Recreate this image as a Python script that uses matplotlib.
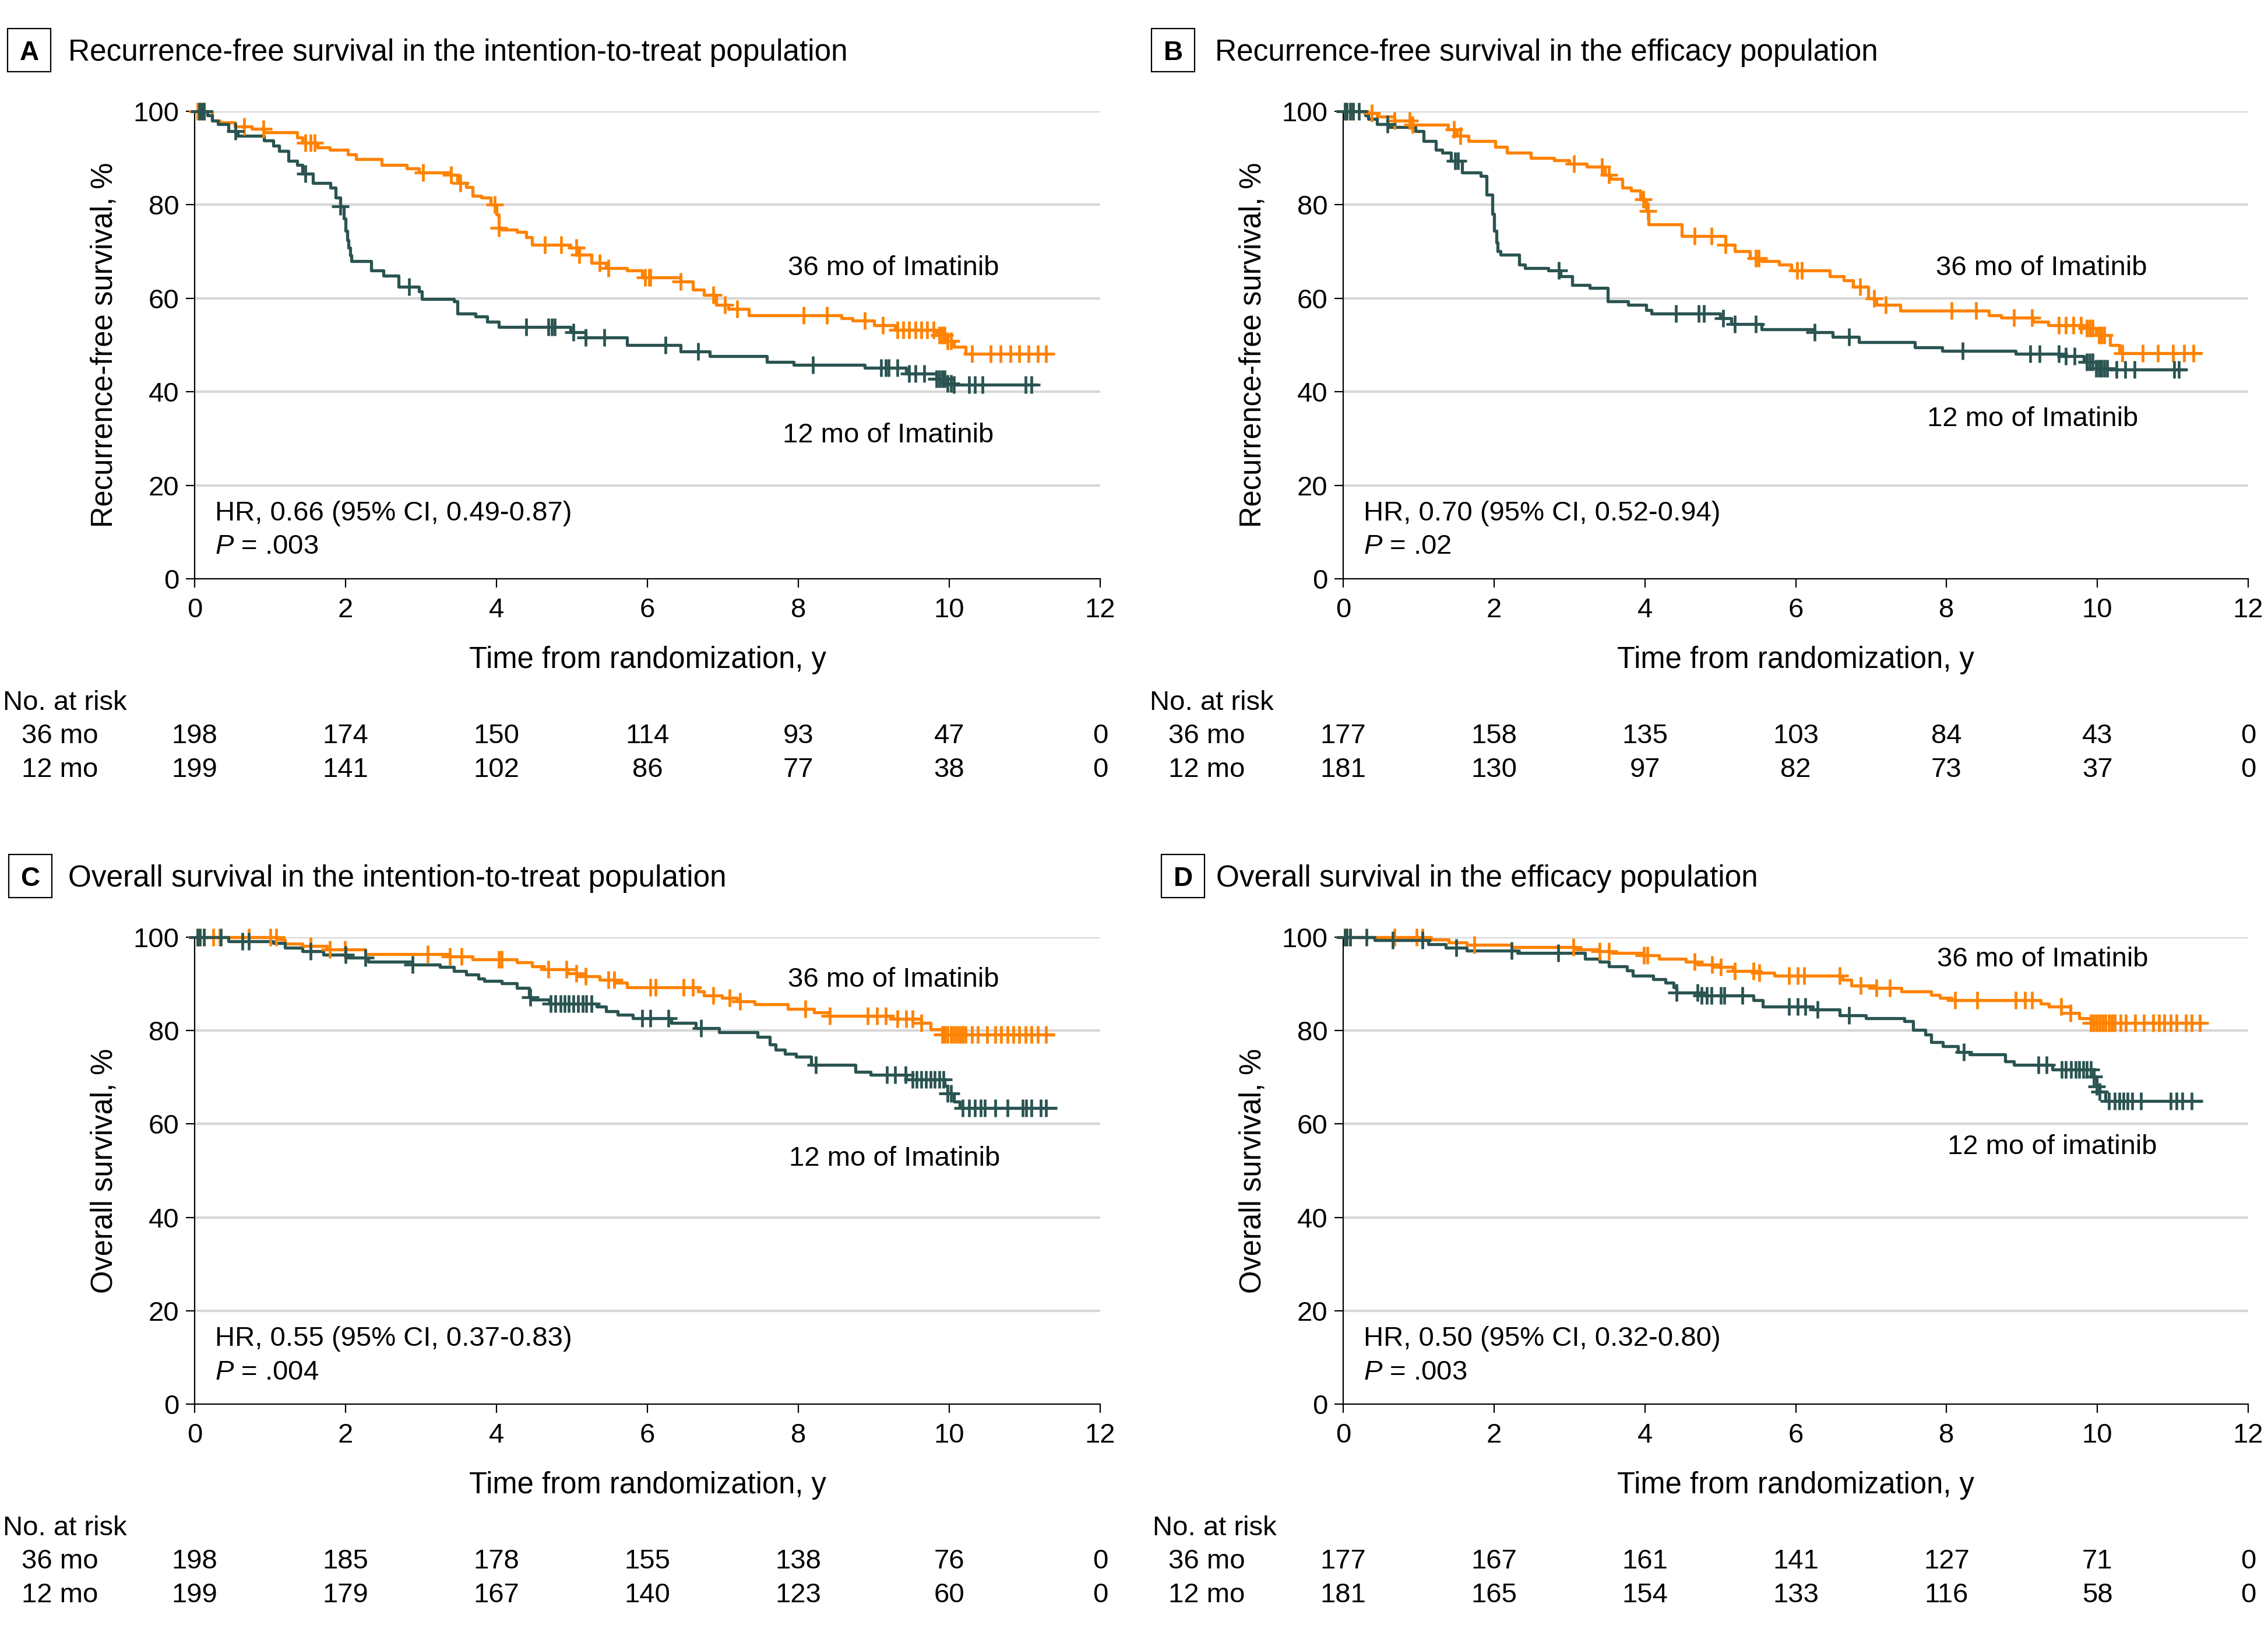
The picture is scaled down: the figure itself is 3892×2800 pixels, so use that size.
import numpy as np
import matplotlib
matplotlib.use("Agg")
import matplotlib.pyplot as plt
from matplotlib.patches import Rectangle
from matplotlib.transforms import blended_transform_factory

plt.rcParams['font.family'] = ['Liberation Sans', 'DejaVu Sans']
plt.rcParams['mathtext.fontset'] = 'custom'
plt.rcParams['mathtext.rm'] = 'Liberation Sans'
plt.rcParams['mathtext.it'] = 'Liberation Sans:italic'

ORANGE = '#FF8200'
TEAL = '#2A5451'

# ---- panel A: RFS, intention-to-treat ----
a36_t = [0, 0.23, 0.33, 0.53, 0.76, 0.92, 1.36, 1.43, 1.63, 1.79, 2.03, 2.14, 2.48, 2.81, 2.97, 3.40,
         3.48, 3.60, 3.68, 3.80, 3.92, 4.00, 4.03, 4.07, 4.27, 4.39, 4.47, 4.98, 5.10, 5.26, 5.45, 5.73,
         5.93, 6.44, 6.60, 6.75, 6.91, 7.07, 7.34, 8.57, 8.72, 9.00, 9.28, 9.83, 9.98, 10.06, 10.22]
a36_s = [100, 98.0, 97.6, 96.7, 96.2, 95.5, 94.4, 93.3, 92.3, 91.8, 90.8, 89.8, 88.5, 87.8, 86.9, 86.4,
         84.7, 83.8, 81.9, 81.5, 80.1, 77.9, 75.1, 74.7, 74.2, 73.1, 71.5, 70.8, 69.3, 67.6, 66.5, 65.9,
         64.5, 63.6, 61.8, 60.7, 58.6, 57.7, 56.3, 55.7, 55.2, 54.3, 53.2, 52.1, 50.9, 49.6, 48.1]
a36_end = 11.36
a36_cens = [0.04, 0.07, 0.12, 0.66, 0.91, 1.47, 1.54, 1.59, 3.03, 3.40, 3.52, 3.98, 4.03, 4.64, 4.86,
            5.06, 5.10, 5.37, 5.48, 5.97, 6.02, 6.04, 6.44, 6.87, 7.03, 7.19, 8.07, 8.38, 8.88, 9.12,
            9.31, 9.39, 9.47, 9.55, 9.63, 9.71, 9.79, 9.87, 9.91, 9.94, 9.98, 10.02, 10.30, 10.55, 10.68,
            10.81, 10.93, 11.05, 11.17, 11.28]
a12_t = [0, 0.17, 0.23, 0.31, 0.45, 0.57, 0.92, 1.04, 1.12, 1.24, 1.36, 1.43, 1.57, 1.80, 1.87, 1.93,
         1.98, 2.00, 2.02, 2.04, 2.06, 2.08, 2.34, 2.50, 2.70, 2.97, 3.01, 3.44, 3.48, 3.72, 3.88, 4.03,
         4.98, 5.18, 5.73, 6.44, 6.83, 7.58, 7.94, 8.88, 9.43, 9.83, 9.98, 10.06]
a12_s = [100, 99.1, 98.0, 97.3, 95.8, 94.8, 93.8, 92.6, 91.5, 89.4, 88.5, 86.7, 84.7, 83.7, 81.5, 79.7,
         77.0, 74.5, 72.5, 70.8, 69.2, 67.9, 65.9, 64.9, 62.5, 61.5, 59.9, 59.3, 56.7, 56.1, 55.0, 53.9,
         52.7, 51.6, 50.0, 48.6, 47.6, 46.4, 45.8, 45.1, 43.9, 42.8, 41.8, 41.5]
a12_end = 11.17
a12_cens = [0.06, 0.09, 0.12, 0.54, 1.47, 1.93, 2.84, 4.39, 4.69, 4.73, 4.77, 5.02, 5.18, 5.43, 6.24,
            6.67, 8.19, 9.10, 9.16, 9.20, 9.31, 9.47, 9.55, 9.67, 9.83, 9.87, 9.91, 9.94, 9.98, 10.02,
            10.06, 10.26, 10.34, 10.44, 11.01, 11.09]

# ---- panel B: RFS, efficacy ----
b36_t = [0, 0.33, 0.45, 0.68, 0.92, 1.39, 1.51, 1.66, 2.02, 2.17, 2.49, 2.80, 3.00, 3.23, 3.47, 3.55,
         3.70, 3.82, 3.94, 4.02, 4.05, 4.49, 5.07, 5.19, 5.39, 5.55, 5.78, 5.94, 6.45, 6.64, 6.76, 6.96,
         7.07, 7.39, 8.56, 8.72, 9.15, 9.35, 9.82, 9.98, 10.17, 10.29]
b36_s = [100, 99.6, 98.9, 98.0, 97.1, 96.1, 94.8, 93.7, 92.4, 91.2, 90.0, 89.5, 88.8, 88.2, 86.4, 85.5,
         83.7, 83.0, 81.2, 78.7, 75.8, 73.3, 71.5, 70.1, 68.6, 67.9, 67.2, 65.9, 64.7, 63.8, 62.5, 60.0,
         58.6, 57.3, 56.4, 55.9, 55.0, 54.2, 53.6, 52.1, 50.0, 48.2]
b36_end = 11.39
b36_cens = [0.02, 0.05, 0.09, 0.13, 0.38, 0.68, 0.88, 0.92, 1.47, 1.55, 3.06, 3.43, 3.52, 3.98, 4.04,
            4.66, 4.88, 5.07, 5.47, 5.51, 6.02, 6.08, 6.85, 7.04, 7.19, 8.07, 8.39, 8.89, 9.13, 9.49,
            9.58, 9.68, 9.78, 9.86, 9.90, 9.94, 10.02, 10.05, 10.09, 10.33, 10.60, 10.80, 11.00, 11.15,
            11.27]
b12_t = [0, 0.29, 0.33, 0.45, 0.60, 0.96, 1.07, 1.23, 1.31, 1.43, 1.58, 1.82, 1.90, 1.98, 2.00, 2.03,
         2.05, 2.09, 2.33, 2.41, 2.72, 2.88, 3.04, 3.27, 3.51, 3.78, 4.02, 4.09, 5.00, 5.15, 5.55, 6.25,
         6.49, 6.84, 7.58, 7.94, 8.92, 9.51, 9.82, 9.98, 10.17]
b12_s = [100, 99.1, 98.4, 97.3, 96.6, 95.8, 93.7, 91.8, 91.2, 89.4, 86.9, 86.2, 82.2, 78.0, 74.4, 72.0,
         70.1, 69.3, 67.2, 66.5, 65.9, 64.7, 62.9, 62.2, 59.3, 58.6, 57.5, 56.7, 55.7, 54.5, 53.4, 52.7,
         51.8, 50.6, 49.5, 48.7, 48.1, 47.6, 46.4, 45.0, 44.8]
b12_end = 11.18
b12_cens = [0.02, 0.05, 0.09, 0.13, 0.21, 0.59, 1.48, 1.52, 2.86, 4.41, 4.71, 4.78, 5.04, 5.19, 5.47,
            6.25, 6.71, 8.21, 9.11, 9.23, 9.49, 9.58, 9.70, 9.86, 9.90, 9.94, 9.98, 10.02, 10.05, 10.09,
            10.13, 10.25, 10.37, 10.49, 11.02, 11.08]

# ---- panel C: OS, intention-to-treat ----
c36_t = [0, 1.12, 1.20, 1.43, 1.75, 2.26, 3.36, 3.68, 4.27, 4.47, 4.63, 4.94, 5.10, 5.37, 5.57, 5.73,
         6.67, 6.75, 6.99, 7.19, 7.42, 7.86, 8.21, 8.41, 9.24, 9.63, 9.75, 9.91]
c36_s = [100, 99.5, 98.6, 98.1, 97.4, 96.4, 95.9, 95.3, 94.6, 93.8, 93.1, 92.2, 91.6, 90.9, 90.3, 89.3,
         88.4, 87.5, 87.0, 86.3, 85.7, 84.6, 83.9, 83.2, 82.5, 81.6, 80.3, 79.1]
c36_end = 11.40
c36_cens = [0.04, 0.07, 0.12, 0.25, 0.33, 0.72, 1.00, 1.08, 1.54, 1.79, 1.99, 3.09, 3.38, 3.54, 4.03,
            4.07, 4.69, 4.93, 5.06, 5.18, 5.48, 5.56, 6.04, 6.11, 6.48, 6.60, 6.87, 7.09, 7.23, 8.09,
            8.42, 8.92, 9.04, 9.16, 9.31, 9.43, 9.51, 9.63, 9.91, 9.94, 9.98, 10.02, 10.06, 10.10, 10.14,
            10.18, 10.22, 10.30, 10.38, 10.50, 10.61, 10.69, 10.77, 10.85, 10.93, 11.01, 11.09, 11.17,
            11.28]
c12_t = [0, 0.45, 1.04, 1.20, 1.43, 1.71, 2.03, 2.30, 2.89, 3.25, 3.44, 3.60, 3.76, 3.84, 4.07, 4.27,
         4.43, 4.47, 4.70, 5.33, 5.45, 5.61, 5.81, 6.32, 6.64, 6.95, 7.46, 7.62, 7.70, 7.82, 7.97, 8.17,
         8.76, 8.96, 9.43, 9.94, 9.98, 10.06, 10.14]
c12_s = [100, 99.1, 98.8, 97.7, 97.0, 96.3, 95.6, 94.8, 94.1, 93.6, 92.7, 92.0, 91.1, 90.6, 90.1, 89.1,
         87.2, 86.6, 85.8, 85.2, 84.1, 83.4, 82.7, 81.6, 80.5, 79.6, 78.7, 77.0, 75.9, 75.0, 74.4, 72.6,
         71.2, 70.5, 69.6, 68.2, 66.6, 64.8, 63.4]
c12_end = 11.43
c12_cens = [0.04, 0.07, 0.12, 0.35, 0.63, 0.72, 1.54, 2.00, 2.26, 2.89, 4.45, 4.72, 4.78, 4.85, 4.90,
            4.96, 5.02, 5.08, 5.14, 5.19, 5.26, 5.93, 6.04, 6.28, 6.71, 8.23, 9.17, 9.28, 9.42, 9.51,
            9.57, 9.63, 9.69, 9.75, 9.81, 9.87, 9.92, 9.98, 10.02, 10.18, 10.26, 10.34, 10.42, 10.47,
            10.61, 10.77, 10.97, 11.02, 11.09, 11.21, 11.28]

# ---- panel D: OS, efficacy ----
d36_t = [0, 1.17, 1.40, 1.64, 2.23, 3.09, 3.40, 3.56, 3.99, 4.19, 4.54, 4.70, 4.97, 5.17, 5.48, 5.72,
         6.62, 6.74, 7.05, 7.40, 7.80, 7.91, 8.07, 9.25, 9.36, 9.64, 9.76, 9.91]
d36_s = [100, 99.5, 98.9, 98.4, 97.9, 97.4, 97.0, 96.6, 96.1, 95.4, 94.8, 94.1, 93.6, 92.8, 92.4, 91.7,
         90.9, 89.6, 89.1, 88.4, 87.7, 87.0, 86.5, 85.8, 85.1, 83.8, 82.7, 81.7]
d36_end = 11.42
d36_cens = [0.02, 0.05, 0.09, 0.68, 0.97, 1.05, 1.74, 3.05, 3.40, 3.52, 3.99, 4.03, 4.66, 4.89, 5.01,
            5.19, 5.44, 5.52, 5.91, 6.03, 6.11, 6.58, 6.86, 7.07, 7.25, 8.11, 8.41, 8.92, 9.04, 9.13,
            9.52, 9.64, 9.91, 9.95, 9.99, 10.03, 10.07, 10.11, 10.15, 10.19, 10.23, 10.31, 10.38, 10.50,
            10.62, 10.74, 10.82, 10.89, 10.97, 11.05, 11.17, 11.25, 11.36]
d12_t = [0, 0.42, 1.13, 1.36, 1.64, 2.31, 3.21, 3.40, 3.52, 3.76, 3.84, 4.11, 4.27, 4.38, 4.42, 4.74,
         5.44, 5.56, 6.23, 6.58, 6.93, 7.44, 7.56, 7.72, 7.80, 7.95, 8.15, 8.31, 8.78, 8.89, 9.40, 9.95,
         9.99, 10.03, 10.11]
d12_s = [100, 99.4, 98.5, 97.8, 97.1, 96.6, 95.4, 94.7, 93.8, 92.9, 91.8, 91.0, 90.3, 89.3, 88.2, 87.5,
         86.5, 85.2, 84.5, 83.3, 82.7, 82.0, 80.2, 79.1, 77.5, 76.6, 75.4, 74.9, 73.4, 72.7, 71.6, 70.2,
         68.0, 66.9, 64.9]
d12_end = 11.40
d12_cens = [0.02, 0.05, 0.09, 0.31, 0.66, 1.05, 1.50, 2.23, 2.85, 4.42, 4.70, 4.75, 4.82, 4.88, 5.01,
            5.05, 5.29, 5.91, 6.03, 6.13, 6.29, 6.71, 8.23, 9.22, 9.33, 9.53, 9.58, 9.65, 9.71, 9.76,
            9.81, 9.86, 9.91, 9.95, 9.99, 10.03, 10.15, 10.23, 10.29, 10.35, 10.40, 10.46, 10.58, 10.97,
            11.05, 11.13, 11.25]

# numbers at risk
risk_times = [0, 2, 4, 6, 8, 10, 12]
a_risk36 = [198, 174, 150, 114, 93, 47, 0]
a_risk12 = [199, 141, 102, 86, 77, 38, 0]
b_risk36 = [177, 158, 135, 103, 84, 43, 0]
b_risk12 = [181, 130, 97, 82, 73, 37, 0]
c_risk36 = [198, 185, 178, 155, 138, 76, 0]
c_risk12 = [199, 179, 167, 140, 123, 60, 0]
d_risk36 = [177, 167, 161, 141, 127, 71, 0]
d_risk12 = [181, 165, 154, 133, 116, 58, 0]

W, H = 3892, 2800
FS = 34
FS_LAB = 36.5
fig = plt.figure(figsize=(W / 100, H / 100), dpi=100)


def km(ax, t, s, end, cens, color):
    ax.step(list(t) + [end], list(s) + [s[-1]], where='post', color=color, lw=3.8,
            clip_on=False, zorder=3, solid_capstyle='butt')
    idx = np.searchsorted(t, cens, side='right') - 1
    ax.plot(cens, np.array(s)[idx], ls='none', marker='+', ms=22, mew=3.4,
            color=color, clip_on=False, zorder=4)


def panel(rect, letter, box_x, title, title_x, ylabel, curves, labels, hr, pval,
          risk36, risk12, risk_x):
    ax = fig.add_axes([rect[0] / W, 1 - rect[3] / H, (rect[2] - rect[0]) / W, (rect[3] - rect[1]) / H])
    ax.set_xlim(0, 12)
    ax.set_ylim(0, 100)
    ax.set_xticks(range(0, 13, 2))
    ax.set_yticks(range(0, 101, 20))
    for v in range(20, 101, 20):
        ax.axhline(v, color='#D7D7D7', lw=3, zorder=1)
    for sp in ['top', 'right']:
        ax.spines[sp].set_visible(False)
    for sp in ['left', 'bottom']:
        ax.spines[sp].set_linewidth(1.6)
    ax.tick_params(direction='out', length=11, width=1.6, pad=8, labelsize=FS)
    ax.tick_params(axis='x', pad=12)
    for c in curves:
        km(ax, *c)
    for txt, x, y in labels:
        ax.text(x, y, txt, fontsize=FS, ha='left', va='center')
    ax.text(0.27, 14.0, hr, fontsize=FS, ha='left', va='center')
    ax.text(0.27, 6.8, r'$P$ = ' + pval, fontsize=FS, ha='left', va='center')
    ax.text(-0.0997, 0.5, ylabel, fontsize=FS_LAB, rotation=90, ha='center', va='center',
            transform=ax.transAxes)
    ax.text(0.5, -0.174, 'Time from randomization, y', fontsize=FS_LAB, ha='center', va='center',
            transform=ax.transAxes)
    tr = blended_transform_factory(ax.transData, ax.transAxes)
    trf = blended_transform_factory(fig.transFigure, ax.transAxes)
    ax.text(risk_x[0] / W, -0.266, 'No. at risk', fontsize=FS, ha='left', va='center', transform=trf)
    ax.text(risk_x[1] / W, -0.337, '36 mo', fontsize=FS, ha='left', va='center', transform=trf)
    ax.text(risk_x[1] / W, -0.409, '12 mo', fontsize=FS, ha='left', va='center', transform=trf)
    for t, n36, n12 in zip(risk_times, risk36, risk12):
        ax.text(t, -0.337, str(n36), fontsize=FS, ha='center', va='center', transform=tr)
        ax.text(t, -0.409, str(n12), fontsize=FS, ha='center', va='center', transform=tr)
    # panel letter box and title
    cy = rect[1] - 105
    fig.patches.append(Rectangle(((box_x - 37) / W, 1 - (cy + 37) / H), 74 / W, 74 / H,
                                 transform=fig.transFigure, fc='white', ec='black', lw=1.6))
    fig.text(box_x / W, 1 - (cy + 17) / H, letter, fontsize=33, fontweight='bold',
             ha='center', va='baseline')
    fig.text(title_x / W, 1 - (cy + 18) / H, title, fontsize=37, ha='left', va='baseline')
    return ax


panel((334, 191, 1888, 993), 'A', 50, 'Recurrence-free survival in the intention-to-treat population', 117,
      'Recurrence-free survival, %',
      [(a36_t, a36_s, a36_end, a36_cens, ORANGE), (a12_t, a12_s, a12_end, a12_cens, TEAL)],
      [('36 mo of Imatinib', 7.86, 66.5), ('12 mo of Imatinib', 7.79, 30.7)],
      'HR, 0.66 (95% CI, 0.49-0.87)', '.003', a_risk36, a_risk12, (5, 37))

panel((2305, 191, 3858, 993), 'B', 2013, 'Recurrence-free survival in the efficacy population', 2085,
      'Recurrence-free survival, %',
      [(b36_t, b36_s, b36_end, b36_cens, ORANGE), (b12_t, b12_s, b12_end, b12_cens, TEAL)],
      [('36 mo of Imatinib', 7.86, 66.5), ('12 mo of Imatinib', 7.74, 34.2)],
      'HR, 0.70 (95% CI, 0.52-0.94)', '.02', b_risk36, b_risk12, (1973, 2005))

panel((334, 1608, 1888, 2409), 'C', 52, 'Overall survival in the intention-to-treat population', 117,
      'Overall survival, %',
      [(c36_t, c36_s, c36_end, c36_cens, ORANGE), (c12_t, c12_s, c12_end, c12_cens, TEAL)],
      [('36 mo of Imatinib', 7.86, 90.9), ('12 mo of Imatinib', 7.88, 52.6)],
      'HR, 0.55 (95% CI, 0.37-0.83)', '.004', c_risk36, c_risk12, (5, 37))

panel((2305, 1608, 3858, 2409), 'D', 2030, 'Overall survival in the efficacy population', 2087,
      'Overall survival, %',
      [(d36_t, d36_s, d36_end, d36_cens, ORANGE), (d12_t, d12_s, d12_end, d12_cens, TEAL)],
      [('36 mo of Imatinib', 7.87, 95.2), ('12 mo of imatinib', 8.01, 55.0)],
      'HR, 0.50 (95% CI, 0.32-0.80)', '.003', d_risk36, d_risk12, (1978, 2005))

fig.savefig('out.png', dpi=100, facecolor='white')
